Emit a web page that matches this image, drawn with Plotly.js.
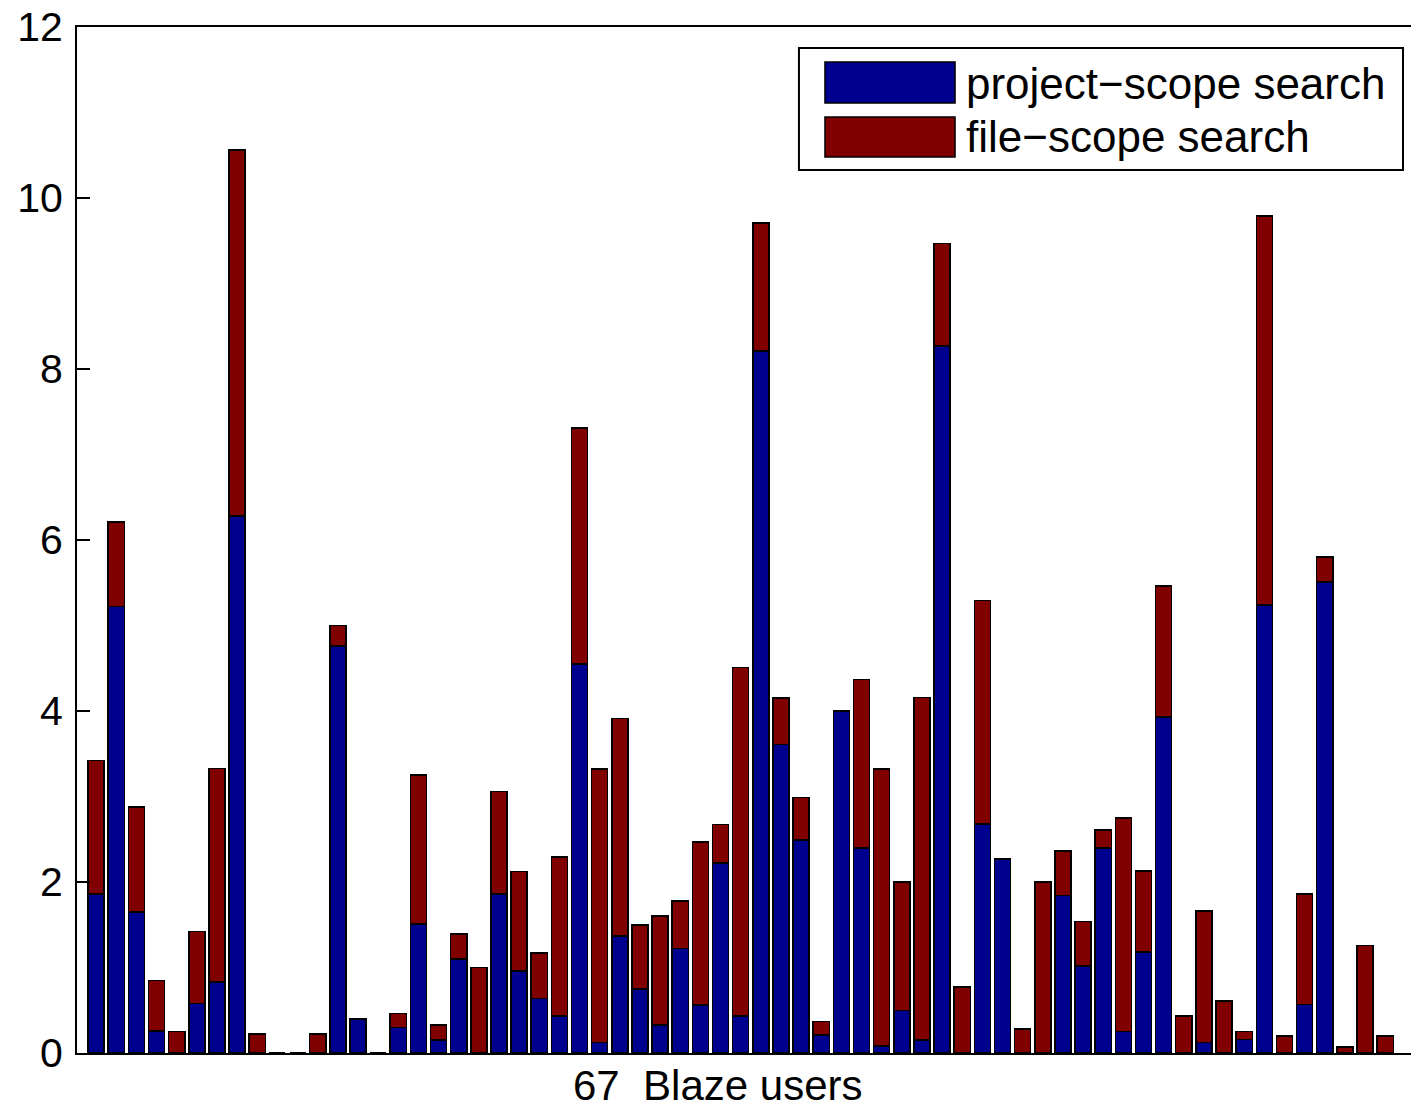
<!DOCTYPE html>
<html>
<head>
<meta charset="utf-8">
<script src="https://cdn.plot.ly/plotly-3.0.1.min.js"></script>
<style>
  html, body { margin: 0; padding: 0; background: #ffffff; }
  #chart { width: 1411px; height: 1111px; }
</style>
</head>
<body>
<div id="chart"></div>
<script>
// Users (bar index along the x axis)
const users = [
  1,2,3,4,5,6,7,8,9,10,11,12,13,14,15,16,17,18,19,20,
  21,22,23,24,25,26,27,28,29,30,31,32,33,34,35,36,37,38,39,40,
  41,42,43,44,45,46,47,48,49,50,51,52,53,54,55,56,57,58,59,60,
  61,62,63,64,65
];

// project-scope search (bottom segment)
const projectScope = [
  1.86,5.22,1.65,0.26,0,0.58,0.83,6.28,0,0,
  0,0,4.76,0.40,0,0.30,1.51,0.15,1.10,0,
  1.86,0.96,0.64,0.43,4.55,0.12,1.37,0.75,0.33,1.22,
  0.56,2.22,0.43,8.21,3.61,2.49,0.21,4.00,2.40,0.08,
  0.50,0.15,8.27,0,2.68,2.27,0,0,1.84,1.02,
  2.40,0.25,1.18,3.93,0,0.12,0,0.16,5.24,0,
  0.57,5.51,0,0,0
];

// file-scope search (top segment)
const fileScope = [
  1.56,0.99,1.23,0.59,0.25,0.84,2.50,4.28,0.22,0,
  0,0.22,0.24,0,0,0.16,1.74,0.18,0.29,1.00,
  1.20,1.16,0.53,1.86,2.76,3.20,2.54,0.75,1.27,0.56,
  1.91,0.45,4.08,1.50,0.54,0.50,0.16,0,1.97,3.24,
  1.50,4.01,1.20,0.77,2.61,0,0.28,2.00,0.52,0.52,
  0.21,2.50,0.95,1.53,0.43,1.54,0.61,0.09,4.55,0.20,
  1.29,0.29,0.07,1.26,0.20
];

const seriesNames = ["project\u2212scope search", "file\u2212scope search"];
const yTicks = [0, 2, 4, 6, 8, 10, 12];
const xLabel = "67  Blaze users";

const BLUE = "rgb(0,0,143)";
const RED = "rgb(128,0,0)";
const FONT = "Liberation Sans, Arial, Helvetica, sans-serif";

const traces = [
  {
    type: "bar", x: users, y: projectScope, name: seriesNames[0],
    marker: { color: BLUE, line: { color: "#000000", width: 1.5 } },
    showlegend: false, hoverinfo: "skip"
  },
  {
    type: "bar", x: users, y: fileScope, name: seriesNames[1],
    marker: { color: RED, line: { color: "#000000", width: 1.5 } },
    showlegend: false, hoverinfo: "skip"
  }
];

// legend geometry (paper coordinates)
const lg = {
  box: { x0: 0.5412, x1: 0.9940, y0: 0.8606, y1: 0.9795 },
  patchX: [0.5607, 0.6582],
  rows: [ { y0: 0.9259, y1: 0.9659, yc: 0.9454, color: BLUE },
          { y0: 0.8733, y1: 0.9123, yc: 0.8928, color: RED } ],
  textX: 0.6650
};

const shapes = [
  { type: "rect", xref: "paper", yref: "paper", x0: lg.box.x0, x1: lg.box.x1, y0: lg.box.y0, y1: lg.box.y1,
    line: { color: "#000000", width: 2 }, fillcolor: "#ffffff", layer: "above" }
];
const annotations = [];
lg.rows.forEach((r, i) => {
  shapes.push({ type: "rect", xref: "paper", yref: "paper", x0: lg.patchX[0], x1: lg.patchX[1], y0: r.y0, y1: r.y1,
    line: { color: "#000000", width: 1.5 }, fillcolor: r.color, layer: "above" });
  annotations.push({ xref: "paper", yref: "paper", x: lg.textX, y: r.yc, xanchor: "left", yanchor: "middle",
    text: seriesNames[i], showarrow: false, font: { family: FONT, size: 44, color: "#000000" } });
});
annotations.push({ xref: "paper", yref: "paper", x: 0.4805, y: -0.0556, xanchor: "center", yanchor: "bottom",
  text: xLabel, showarrow: false, borderpad: 0, font: { family: FONT, size: 42, color: "#000000" } });

const layout = {
  width: 1411, height: 1111,
  margin: { l: 77, r: 0, t: 27, b: 58, pad: 0 },
  paper_bgcolor: "#ffffff", plot_bgcolor: "#ffffff",
  barmode: "stack", bargap: 0.2,
  font: { family: FONT, size: 41, color: "#000000" },
  xaxis: {
    range: [0.05, 66.28], showgrid: false, zeroline: false,
    showticklabels: false, ticks: "",
    showline: true, linecolor: "#000000", linewidth: 2, mirror: true
  },
  yaxis: {
    range: [0, 12], tickvals: yTicks, ticktext: yTicks.map(String),
    showgrid: false, zeroline: false,
    ticks: "inside", ticklen: 13, tickwidth: 2, tickcolor: "#000000",
    showline: true, linecolor: "#000000", linewidth: 2,
    ticklabelstandoff: 4,
    tickfont: { family: FONT, size: 41, color: "#000000" }
  },
  shapes: shapes,
  annotations: annotations,
  showlegend: false
};

Plotly.newPlot("chart", traces, layout, { displayModeBar: false, staticPlot: true });
</script>
</body>
</html>
